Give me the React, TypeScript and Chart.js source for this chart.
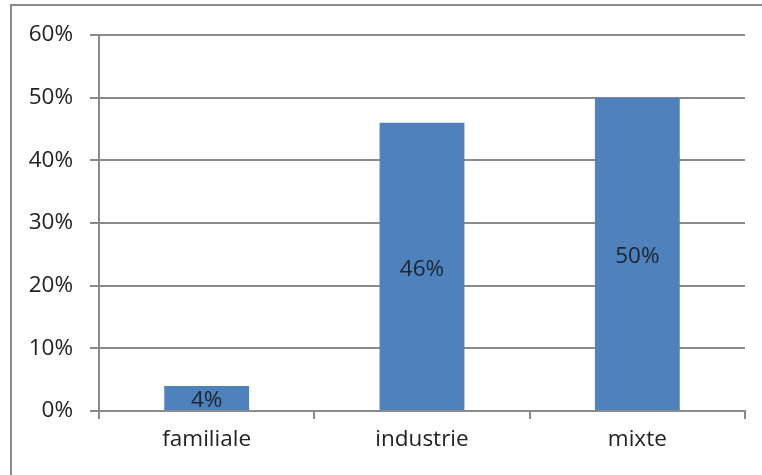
import React, { useEffect, useRef } from "react";
import { Chart, registerables } from "chart.js";

Chart.register(...registerables);

const categories = ["familiale", "industrie", "mixte"];
const shares = [4, 46, 50];
const yTicks = [0, 10, 20, 30, 40, 50, 60];

const FONT = "'Open Sans', sans-serif";
const FONT_SIZE = 22.5;

// Percentage written in the middle of each bar
const barLabels = {
  id: "barLabels",
  afterDatasetsDraw(chart: any) {
    const { ctx } = chart;
    const meta = chart.getDatasetMeta(0);
    ctx.save();
    ctx.font = `${FONT_SIZE}px ${FONT}`;
    ctx.fillStyle = "#1c2530";
    ctx.textAlign = "center";
    ctx.textBaseline = "middle";
    meta.data.forEach((bar: any, i: number) => {
      const y = (bar.y + bar.base) / 2 + 3;
      ctx.fillText(`${shares[i]}%`, bar.x, y);
    });
    ctx.restore();
  },
};

export default function App() {
  const ref = useRef<HTMLCanvasElement>(null);

  useEffect(() => {
    document.body.style.margin = "0";
    const chart = new Chart(ref.current!, {
      type: "bar",
      data: {
        labels: categories,
        datasets: [
          {
            data: shares,
            backgroundColor: "#4f81bd",
            borderWidth: 0,
            categoryPercentage: 0.394,
            barPercentage: 1,
          },
        ],
      },
      options: {
        animation: false,
        responsive: false,
        layout: { padding: { top: 35, right: 17, left: 0, bottom: 0 } },
        plugins: { legend: { display: false }, tooltip: { enabled: false } },
        scales: {
          x: {
            offset: true,
            grid: {
              offset: true,
              drawOnChartArea: false,
              color: "#8a8a8a",
              lineWidth: 2,
              tickLength: 8,
            },
            border: { color: "#8a8a8a", width: 2 },
            ticks: {
              color: "#222",
              font: { family: FONT, size: FONT_SIZE },
              padding: 7,
            },
            afterFit(scale: any) {
              scale.height = 64;
            },
          },
          y: {
            min: 0,
            max: 60,
            afterBuildTicks(scale: any) {
              scale.ticks = yTicks.map((v) => ({ value: v }));
            },
            grid: {
              color: "#8a8a8a",
              lineWidth: 2,
              tickLength: 9,
            },
            border: { color: "#8a8a8a", width: 2 },
            ticks: {
              color: "#222",
              font: { family: FONT, size: FONT_SIZE },
              padding: 17,
              callback: (v: any) => `${v}%`,
            },
            afterFit(scale: any) {
              scale.width = 99;
            },
          },
        },
      },
      plugins: [barLabels],
    });
    return () => chart.destroy();
  }, []);

  return (
    <div style={{ position: "relative", width: 762, height: 475, overflow: "hidden", background: "#fff" }}>
      <div
        style={{
          position: "absolute",
          left: 10,
          top: 4,
          width: 800,
          height: 520,
          border: "2px solid #8a8a8a",
          boxSizing: "border-box",
        }}
      />
      <canvas ref={ref} width={762} height={475} style={{ position: "absolute", left: 0, top: 0 }} />
    </div>
  );
}
